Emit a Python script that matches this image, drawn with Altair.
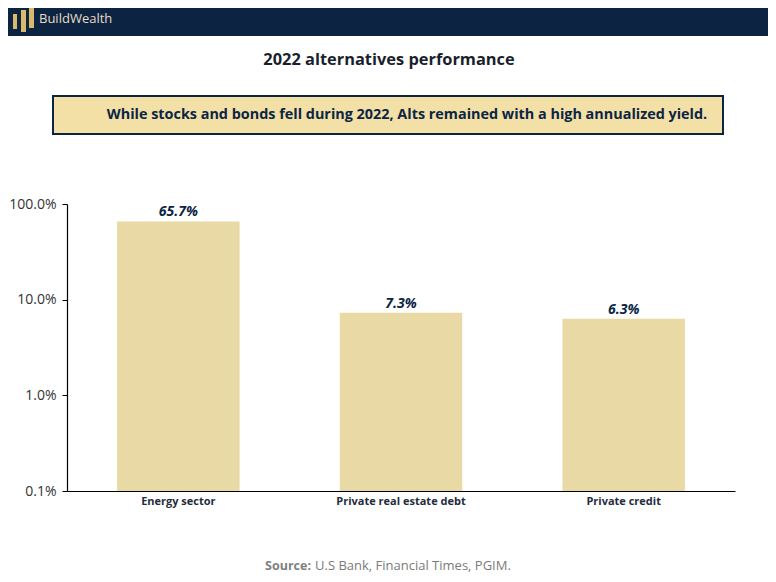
import altair as alt
import pandas as pd

categories = ["Energy sector", "Private real estate debt", "Private credit"]
values = [65.7, 7.3, 6.3]
labels = ["65.7%", "7.3%", "6.3%"]
y_ticks = [0.1, 1, 10, 100]

df = pd.DataFrame({"cat": categories, "val": values, "lab": labels, "base": [0.1] * 3})

FONT = "Open Sans"
NAVY = "#0b2545"

xenc = alt.X("cat:N", sort=categories, title=None,
             scale=alt.Scale(paddingInner=0.45, paddingOuter=0.225),
             axis=alt.Axis(labelAngle=0, ticks=False, domainColor="black", domainWidth=1.2,
                           labelFont=FONT, labelFontWeight="bold", labelFontSize=11,
                           labelColor="#1f2d3d", labelPadding=4))
yscale = alt.Scale(type="log", domain=[0.1, 100])
yenc = alt.Y("val:Q", scale=yscale, title=None,
             axis=alt.Axis(values=y_ticks, labelExpr="format(datum.value, '.1f') + '%'",
                           grid=False, domainColor="black", domainWidth=1.2, tickColor="black",
                           tickSize=5, labelFont=FONT, labelFontSize=14, labelColor="#333333",
                           labelPadding=6))

base = alt.Chart(df)
bars = base.mark_bar(color="#e9d9a4").encode(x=xenc, y=yenc, y2="base:Q")
text = base.mark_text(dy=-9, font=FONT, fontSize=14, fontWeight="bold", fontStyle="italic",
                      color=NAVY).encode(x=alt.X("cat:N", sort=categories), y="val:Q", text="lab:N")

one = pd.DataFrame({"a": [0]})
o = alt.Chart(one)
# decorations (plot-area pixel coordinates; plot origin at page (67,204))
header = o.mark_rect(color="#0d2342").encode(x=alt.value(-60), x2=alt.value(702),
                                              y=alt.value(-200), y2=alt.value(-168))
logo_df = pd.DataFrame({"x1": [-54, -46, -38], "x2": [-50, -41, -33],
                        "y1": [-190, -194, -197], "y2": [-175, -172, -176]})
logo = alt.Chart(logo_df).mark_rect(color="#d9b96a").encode(
    x=alt.X("x1:Q", scale=None), x2="x2:Q", y=alt.Y("y1:Q", scale=None), y2="y2:Q")
brand = o.mark_text(text="BuildWealth", align="left", baseline="middle", font=FONT,
                    fontSize=13, color="#e6dcc4").encode(x=alt.value(-28), y=alt.value(-185))
title = o.mark_text(text="2022 alternatives performance", align="center", baseline="middle",
                    font=FONT, fontSize=16.4, fontWeight="bold", color="#1a1f2e").encode(
    x=alt.value(322), y=alt.value(-144))
box = o.mark_rect(color="#f3e0a6", stroke=NAVY, strokeWidth=2).encode(
    x=alt.value(-14), x2=alt.value(656), y=alt.value(-108), y2=alt.value(-70))
boxtext = o.mark_text(text="While stocks and bonds fell during 2022, Alts remained with a high annualized yield.",
                      align="center", baseline="middle", font=FONT, fontSize=14.4, fontWeight="bold",
                      color=NAVY).encode(x=alt.value(340), y=alt.value(-89))
src1 = o.mark_text(text="Source:", align="right", baseline="middle", font=FONT, fontSize=12.5,
                   fontWeight="bold", color="#808080").encode(x=alt.value(244), y=alt.value(362))
src2 = o.mark_text(text="U.S Bank, Financial Times, PGIM.", align="left", baseline="middle", font=FONT,
                   fontSize=13, color="#7a7a7a").encode(x=alt.value(248), y=alt.value(362))

chart = alt.layer(bars, text, header, logo, brand, title, box, boxtext, src1, src2).resolve_scale(
    x="shared", y="shared"
).properties(
    width=668, height=287,
    padding={"left": 59, "top": 196, "right": 33, "bottom": 83},
    autosize=alt.AutoSizeParams(type="none"),
).configure_view(stroke=None)

chart.save("out.html", embed_options={"renderer": "svg", "actions": False})
